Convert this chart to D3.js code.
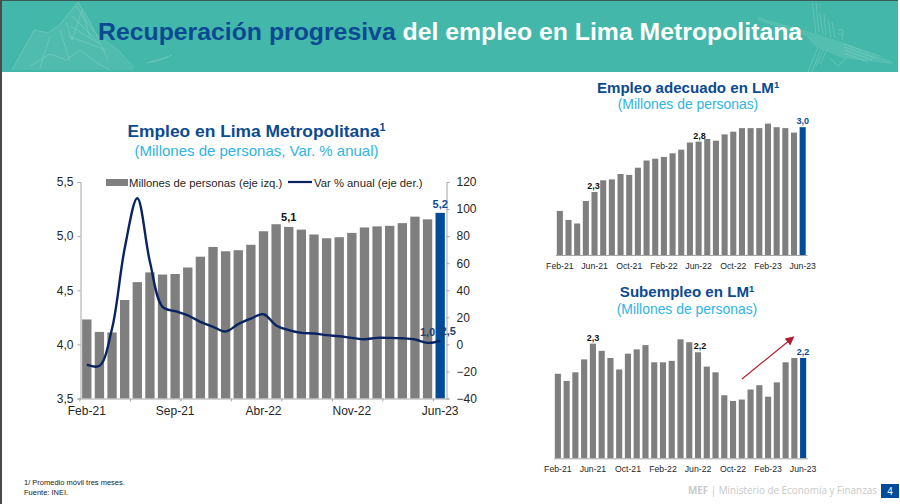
<!DOCTYPE html>
<html>
<head>
<meta charset="utf-8">
<script src="https://cdn.jsdelivr.net/npm/d3@7"></script>
<style>
  html, body { margin: 0; padding: 0; background: #fff; }
  svg { display: block; font-family: "Liberation Sans", Arial, sans-serif; }
  .axis text { font-size: 12px; fill: #262626; }
  .small .axis text { font-size: 8.7px; }
</style>
</head>
<body>
<svg id="chart" width="900" height="504"></svg>
<script>
const months = ['Feb-21','Mar-21','Abr-21','May-21','Jun-21','Jul-21','Ago-21','Sep-21','Oct-21','Nov-21','Dic-21','Ene-22',
  'Feb-22','Mar-22','Abr-22','May-22','Jun-22','Jul-22','Ago-22','Sep-22','Oct-22','Nov-22','Dic-22','Ene-23',
  'Feb-23','Mar-23','Abr-23','May-23','Jun-23'];

const empleo = [4.23,4.115,4.11,4.41,4.575,4.665,4.645,4.65,4.71,4.81,4.90,4.86,4.87,4.92,5.045,
  5.11,5.085,5.06,5.015,4.98,4.99,5.03,5.08,5.09,5.095,5.12,5.18,5.155,5.215];
const varAnual = [-15,-15.8,11.7,70.8,108,61,27.7,24.5,21.5,16.6,13,9.5,15,19,22.3,
  14,10.5,8.5,8,6.8,6,4.8,3.8,4.8,4.8,4.5,3.6,1.1,2.5];
const adecuado = [2.07,1.97,1.93,2.18,2.28,2.41,2.42,2.48,2.47,2.55,2.63,2.65,2.67,2.71,2.75,
  2.83,2.84,2.87,2.85,2.92,2.95,2.99,2.99,2.99,3.04,3.0,2.99,2.94,3.0];
const subempleo = [2.09,2.04,2.10,2.19,2.30,2.25,2.20,2.12,2.23,2.26,2.29,2.17,2.17,2.18,2.33,
  2.31,2.24,2.14,2.10,1.94,1.90,1.91,1.98,2.01,1.93,2.03,2.17,2.20,2.20];

const mainTicks = ['Feb-21','Sep-21','Abr-22','Nov-22','Jun-23'];
const smallTicks = ['Feb-21','Jun-21','Oct-21','Feb-22','Jun-22','Oct-22','Feb-23','Jun-23'];

const NAVY = '#0B4A92', CYAN = '#2FB4E6', GREY = '#7F7F7F', HILITE = '#004C9A', LINE = '#0A2463';
const comma = d3.format('.1f');
const es = v => comma(v).replace('.', ',');

const svg = d3.select('#chart');

// header band with the faint mountain and Nazca drawing
const header = svg.append('g');
header.append('rect').attr('x', 2).attr('width', 896).attr('height', 72).attr('fill', '#43B7A9');
header.append('rect').attr('width', 898).attr('height', 1).attr('fill', '#3d5a58');
svg.append('rect').attr('width', 2).attr('height', 504).attr('fill', '#4a4a4a');

const deco = header.append('g').attr('fill', 'none').attr('stroke', '#9adbd0').attr('stroke-width', 0.6).attr('opacity', 0.6);
header.insert('path', 'g').attr('d', 'M12 70 L34 30 L48 33 L60 24 L78 2 L88 18 L96 34 L118 50 L134 70 Z')
  .attr('fill', '#7fd0c4').attr('opacity', 0.22);
header.insert('path', 'g').attr('d', 'M758 17 L807 31 L842 42 L893 62 L892 64 L842 58 L815 46 L806 36 L757 20 Z')
  .attr('fill', '#7fd0c4').attr('opacity', 0.3);
[
  'M12 70 L34 30 L48 33 L60 24 L78 2 L88 18 L96 34 L118 50 L134 68',
  'M66 22 L72 40 L82 10 L90 38 M60 30 L70 62 M50 36 L40 68 M96 34 L108 60',
  'M76 6 L94 32 M72 16 L96 40 M70 26 L100 44 M68 36 L106 50',
  'M30 66 L50 54 L66 60 L80 50 L96 62 L110 70',
  'M146 63 Q158 62 172 55 M150 62 Q160 59 168 57',
  'M812 2 L816 34 M816 2 L819 32 M820 14 L823 34 M824 14 L826 36 M828 20 L831 38 M832 22 L835 38',
  'M838 30 Q846 28 842 36 M838 34 Q844 32 842 40',
  'M808 72 L818 47 M812 72 L821 48 M816 66 L824 49 M820 64 L827 50 M830 58 L838 66 L846 58',
  'M844 44 L880 56 M844 47 L876 58 M844 50 L872 60 M844 53 L868 62'
].forEach(d => deco.append('path').attr('d', d));

const title = header.append('text').attr('x', 98).attr('y', 39.5).attr('font-size', 24.8).attr('font-weight', 700);
title.append('tspan').attr('fill', '#0B4A92').text('Recuperación progresiva');
title.append('tspan').attr('fill', '#fff').text(' del empleo en Lima Metropolitana');

function chartTitle(cx, y, main, sub, mainSize, subSize, gap) {
  const t = svg.append('text').attr('x', cx).attr('y', y).attr('text-anchor', 'middle')
    .attr('font-size', mainSize).attr('font-weight', 700).attr('fill', NAVY);
  t.append('tspan').text(main);
  t.append('tspan').attr('font-size', mainSize * 0.62).attr('dy', -mainSize * 0.32).text('1');
  svg.append('text').attr('x', cx).attr('y', y + gap).attr('text-anchor', 'middle')
    .attr('font-size', subSize).attr('fill', CYAN).text(sub);
}

chartTitle(256.5, 136.5, 'Empleo en Lima Metropolitana', '(Millones de personas, Var. % anual)', 17.4, 15, 19);
chartTitle(688, 92.5, 'Empleo adecuado en LM', '(Millones de personas)', 15.1, 13.9, 16.5);
chartTitle(687, 297, 'Subempleo en LM', '(Millones de personas)', 15.1, 13.9, 17);

// main chart
const x = d3.scaleBand().domain(months).range([80.5, 446.5]).paddingInner(0.26).paddingOuter(0.13);
const yL = d3.scaleLinear().domain([3.5, 5.5]).range([398.5, 182]);
const yR = d3.scaleLinear().domain([-40, 120]).range([398.5, 182]);
const mid = m => x(m) + x.bandwidth() / 2;

const main = svg.append('g');
main.selectAll('rect.bar').data(months).join('rect')
  .attr('class', 'bar')
  .attr('x', m => x(m)).attr('width', x.bandwidth())
  .attr('y', (m, i) => yL(empleo[i]))
  .attr('height', (m, i) => yL(3.5) - yL(empleo[i]))
  .attr('fill', (m, i) => i === months.length - 1 ? HILITE : GREY);

function styleAxis(g) {
  g.attr('class', 'axis');
  g.selectAll('path').attr('stroke', '#a6a6a6');
  g.selectAll('line').attr('stroke', '#a6a6a6');
}

main.append('g').attr('transform', 'translate(80.5,0)')
  .call(d3.axisLeft(yL).tickValues([3.5, 4, 4.5, 5, 5.5]).tickFormat(es).tickSize(3).tickPadding(4))
  .call(styleAxis);
main.append('g').attr('transform', 'translate(446.5,0)')
  .call(d3.axisRight(yR).tickValues(d3.range(-40, 121, 20)).tickSize(3).tickPadding(7))
  .call(styleAxis);
main.append('g').attr('transform', 'translate(0,398.5)')
  .call(d3.axisBottom(x).tickValues(mainTicks).tickSize(0).tickPadding(8))
  .call(styleAxis);
// the month ticks fall between bars, every fourth month, apart from the labels
main.selectAll('line.mtick').data(months.filter((m, i) => i % 4 === 0)).join('line')
  .attr('class', 'mtick')
  .attr('x1', m => x(m) - x.step() * x.paddingInner() / 2 - x.bandwidth() * 0.06)
  .attr('x2', m => x(m) - x.step() * x.paddingInner() / 2 - x.bandwidth() * 0.06)
  .attr('y1', 398.5).attr('y2', 401.5).attr('stroke', '#a6a6a6');

const line = d3.line().x(m => mid(m)).y((m, i) => yR(varAnual[i])).curve(d3.curveCatmullRom.alpha(0.5));
main.append('path').datum(months).attr('d', line)
  .attr('fill', 'none').attr('stroke', LINE).attr('stroke-width', 2.4);

const last = months.length - 1;
const lab = (s, px, py, fill, size) => s.append('text').attr('x', px).attr('y', py)
  .attr('text-anchor', 'middle').attr('font-size', size).attr('font-weight', 700).attr('fill', fill);

lab(main, mid('Jun-22'), yL(empleo[16]) - 6, '#111', 11).text(es(5.1));
lab(main, mid('Jun-23'), yL(empleo[last]) - 5, NAVY, 11).text(es(empleo[last]));
lab(main, mid('May-23'), yR(varAnual[last - 1]) - 7, '#1d3f72', 11).text(es(1.0));
lab(main, mid('Jun-23') + 8, yR(varAnual[last]) - 5.5, '#1d3f72', 11).text(es(varAnual[last]));

// legend
main.append('rect').attr('x', 106).attr('y', 179).attr('width', 22).attr('height', 7).attr('fill', GREY);
main.append('text').attr('x', 129).attr('y', 186.5).attr('font-size', 11.3).attr('fill', '#262626').text('Millones de personas (eje izq.)');
main.append('line').attr('x1', 288).attr('x2', 312).attr('y1', 182).attr('y2', 182).attr('stroke', LINE).attr('stroke-width', 2.2);
main.append('text').attr('x', 314).attr('y', 186.5).attr('font-size', 11.3).attr('fill', '#262626').text('Var % anual (eje der.)');

// two small bar charts on the right
function smallChart(values, range, domain, labels) {
  const sx = d3.scaleBand().domain(months).range(range).paddingInner(0.3).paddingOuter(0.15);
  const sy = d3.scaleLinear().domain(domain.v).range(domain.y);
  const g = svg.append('g').attr('class', 'small');
  g.selectAll('rect').data(months).join('rect')
    .attr('x', m => sx(m)).attr('width', sx.bandwidth())
    .attr('y', (m, i) => sy(values[i]))
    .attr('height', (m, i) => domain.y[0] - sy(values[i]))
    .attr('fill', (m, i) => i === last ? HILITE : GREY);
  g.append('g').attr('transform', `translate(0,${domain.y[0]})`)
    .call(d3.axisBottom(sx).tickValues(smallTicks).tickSize(0).tickPadding(8))
    .call(styleAxis);
  labels.forEach(l => {
    const i = months.indexOf(l.m);
    lab(g, sx(l.m) + sx.bandwidth() / 2 + (l.dx || 0), sy(values[i]) - 3, i === last ? NAVY : '#111', 9).text(es(l.v));
  });
}

smallChart(adecuado, [555.5, 807], { v: [1.58, 3.08], y: [255, 120] },
  [{ m: 'Jun-21', v: 2.3, dx: -1 }, { m: 'Jun-22', v: 2.8, dx: 1 }, { m: 'Jun-23', v: 3.0 }]);
smallChart(subempleo, [553.5, 807.5], { v: [1.5, 2.5], y: [458.3, 315] },
  [{ m: 'Jun-21', v: 2.3 }, { m: 'Jun-22', v: 2.2, dx: 2 }, { m: 'Jun-23', v: 2.2 }]);

// red arrow over the last months of subempleo
svg.append('defs').append('marker').attr('id', 'arrow').attr('viewBox', '0 0 10 10')
  .attr('refX', 8).attr('refY', 5).attr('markerWidth', 9).attr('markerHeight', 9)
  .attr('markerUnits', 'userSpaceOnUse').attr('orient', 'auto')
  .append('path').attr('d', 'M0 0 L10 5 L0 10 z').attr('fill', '#B01E2E');
svg.append('line').attr('x1', 742).attr('y1', 379).attr('x2', 793).attr('y2', 337.5)
  .attr('stroke', '#B01E2E').attr('stroke-width', 1.2).attr('marker-end', 'url(#arrow)');

// footer
svg.append('text').attr('x', 24).attr('y', 485).attr('font-size', 7.5).attr('fill', '#222').text('1/ Promedio móvil tres meses.');
svg.append('text').attr('x', 24).attr('y', 495).attr('font-size', 7.5).attr('fill', '#222').text('Fuente: INEI.');
const foot = svg.append('text').attr('x', 877).attr('y', 494).attr('text-anchor', 'end')
  .attr('font-family', '"Open Sans", sans-serif').attr('font-size', 9.9).attr('fill', '#c9c9c9');
foot.append('tspan').attr('font-weight', 700).text('MEF');
foot.append('tspan').text(' | Ministerio de Economía y Finanzas');
svg.append('rect').attr('x', 881).attr('y', 484).attr('width', 18).attr('height', 14).attr('fill', HILITE);
svg.append('text').attr('x', 890).attr('y', 494.5).attr('text-anchor', 'middle').attr('font-size', 10)
  .attr('fill', '#fff').text('4');
</script>
</body>
</html>
